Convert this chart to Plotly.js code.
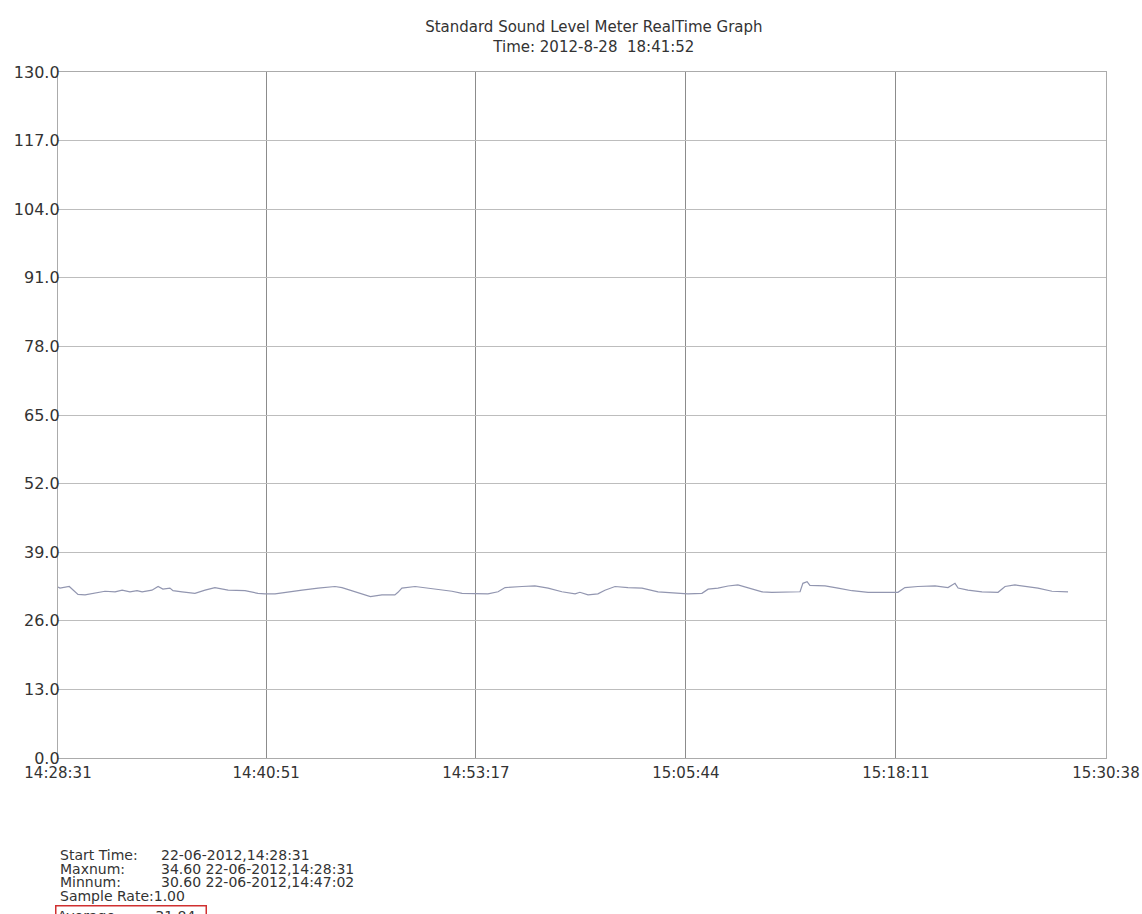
<!DOCTYPE html>
<html>
<head>
<meta charset="utf-8">
<script src="https://cdn.plot.ly/plotly-3.0.1.min.js"></script>
<style>html,body{margin:0;padding:0;background:#fff;}#chart{width:1142px;height:914px;}</style>
</head>
<body>
<div id="chart"></div>
<script>
// ---- data ----
const startTime = '14:28:31';
const tickLabels = ['14:28:31', '14:40:51', '14:53:17', '15:05:44', '15:18:11', '15:30:38'];
const yTicks = [0, 13, 26, 39, 52, 65, 78, 91, 104, 117, 130];
// elapsed seconds since start time
const elapsedSec = [0, 7, 40, 71, 96, 142, 167, 203, 228, 256, 281, 299, 334, 356, 373, 398, 409, 441, 487, 523,
  558, 605, 665, 711, 736, 772, 818, 868, 925, 985, 1010, 1056, 1102, 1111, 1152, 1198, 1209, 1223, 1270, 1316,
  1366, 1401, 1437, 1483, 1529, 1565, 1590, 1650, 1696, 1743, 1792, 1839, 1856, 1885, 1920, 1945, 1981, 2027, 2077, 2134,
  2194, 2240, 2290, 2312, 2347, 2383, 2418, 2454, 2504, 2539, 2585, 2639, 2649, 2664, 2674, 2728, 2774, 2824, 2881, 2941,
  2987, 3012, 3058, 3119, 3165, 3190, 3201, 3236, 3286, 3343, 3368, 3403, 3439, 3485, 3535, 3592];
const levelDb = [32.4, 32.2, 32.5, 31.0, 30.9, 31.3, 31.6, 31.5, 31.8, 31.5, 31.7, 31.5, 31.8, 32.5, 32.0, 32.2, 31.7, 31.5, 31.2, 31.8,
  32.3, 31.8, 31.7, 31.2, 31.1, 31.1, 31.5, 31.8, 32.2, 32.5, 32.3, 31.5, 30.8, 30.6, 30.9, 30.9, 31.4, 32.2, 32.5, 32.2,
  31.8, 31.6, 31.2, 31.1, 31.1, 31.5, 32.3, 32.5, 32.6, 32.2, 31.5, 31.1, 31.4, 30.9, 31.1, 31.8, 32.5, 32.3, 32.2, 31.5,
  31.2, 31.1, 31.2, 32.0, 32.2, 32.6, 32.8, 32.2, 31.5, 31.4, 31.4, 31.5, 33.1, 33.4, 32.7, 32.6, 32.2, 31.7, 31.4, 31.4,
  31.4, 32.3, 32.5, 32.6, 32.3, 33.1, 32.2, 31.8, 31.5, 31.4, 32.5, 32.8, 32.5, 32.2, 31.6, 31.5];
const titleLines = ['Standard Sound Level Meter RealTime Graph', 'Time: 2012-8-28  18:41:52'];
const infoLabels = ['Start Time:', 'Maxnum:', 'Minnum:'];
const infoValues = ['22-06-2012,14:28:31', '34.60 22-06-2012,14:28:31', '30.60 22-06-2012,14:47:02'];
const sampleRateText = 'Sample Rate:1.00';
const averageLabel = 'Average:';
const averageValue = '31.84';

// ---- helpers ----
function toSec(s) { const p = s.split(':').map(Number); return p[0] * 3600 + p[1] * 60 + p[2]; }
const t0 = toSec(startTime);
const tickVals = tickLabels.map(l => toSec(l) - t0);

const FONT = 'DejaVu Sans, Liberation Sans, Arial, sans-serif';
const TXT = '#333333';

const trace = {
  type: 'scatter', mode: 'lines',
  x: elapsedSec, y: levelDb,
  line: { color: '#9296b0', width: 1.2 },
  hoverinfo: 'skip', showlegend: false
};

// bottom info block (paper coords below plot)
const plotBottom = 758, plotH = 686, plotL = 58, plotW = 1048;
function py(pix) { return (plotBottom - pix) / plotH; }
function px(pix) { return (pix - plotL) / plotW; }
const lineYs = [855, 868.5, 882, 895.5, 909];
const annotations = [];
const infoFont = { family: FONT, size: 14, color: TXT };
infoLabels.forEach((lab, i) => {
  annotations.push({ xref: 'paper', yref: 'paper', x: px(59), y: py(lineYs[i]), xanchor: 'left', yanchor: 'middle',
    text: lab, showarrow: false, font: infoFont, borderpad: 0 });
  annotations.push({ xref: 'paper', yref: 'paper', x: px(160), y: py(lineYs[i]), xanchor: 'left', yanchor: 'middle',
    text: infoValues[i], showarrow: false, font: infoFont, borderpad: 0 });
});
annotations.push({ xref: 'paper', yref: 'paper', x: px(59), y: py(lineYs[3]), xanchor: 'left', yanchor: 'middle',
  text: sampleRateText, showarrow: false, font: infoFont, borderpad: 0 });
annotations.push({ xref: 'paper', yref: 'paper', x: px(55), y: py(lineYs[4] + 6), xanchor: 'left', yanchor: 'middle',
  text: averageLabel + '&nbsp;&nbsp;&nbsp;&nbsp;&nbsp;&nbsp;&nbsp;&nbsp;' + averageValue + '&nbsp;&nbsp;', showarrow: false, font: infoFont,
  bordercolor: '#d03030', borderwidth: 1.5, borderpad: 1 });

const layout = {
  width: 1142, height: 914,
  paper_bgcolor: '#ffffff', plot_bgcolor: '#ffffff',
  margin: { l: 58, r: 36, t: 72, b: 156 },
  title: {
    text: titleLines.join('<br>'),
    font: { family: FONT, size: 15, color: TXT },
    x: 0.52, xanchor: 'center', xref: 'container',
    y: 1 - 32 / 914, yanchor: 'middle', yref: 'container'
  },
  xaxis: {
    range: [0, tickVals[tickVals.length - 1]],
    tickmode: 'array', tickvals: tickVals, ticktext: tickLabels,
    showgrid: true, gridcolor: '#8c8c8c', gridwidth: 1,
    zeroline: false, showline: true, mirror: true, linecolor: '#ababab', linewidth: 1.2,
    ticks: '', ticklabelstandoff: 1, tickfont: { family: FONT, size: 15, color: TXT },
    automargin: false, fixedrange: true
  },
  yaxis: {
    range: [0, 130],
    tickmode: 'array', tickvals: yTicks, ticktext: yTicks.map(v => v.toFixed(1)),
    showgrid: true, gridcolor: '#bdbdbd', gridwidth: 1,
    zeroline: false, showline: true, mirror: true, linecolor: '#ababab', linewidth: 1.2,
    ticks: '', ticklabelstandoff: -6,
    tickfont: { family: FONT, size: 16, color: TXT },
    automargin: false, fixedrange: true
  },
  annotations: annotations,
  showlegend: false
};

Plotly.newPlot('chart', [trace], layout, { displayModeBar: false, staticPlot: true });
</script>
</body>
</html>
